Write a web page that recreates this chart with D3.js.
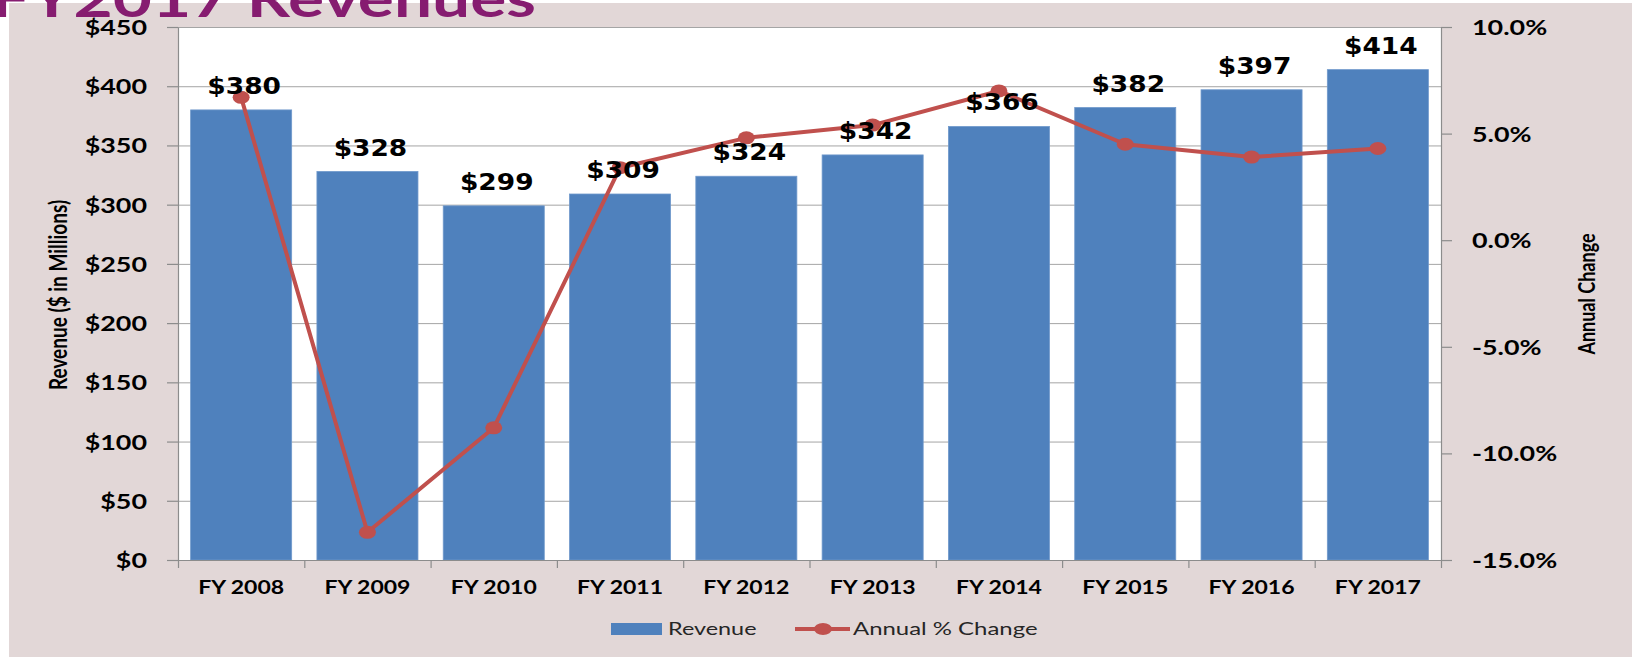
<!DOCTYPE html>
<html>
<head>
<meta charset="utf-8">
<script src="https://cdn.jsdelivr.net/npm/d3@7"></script>
<style>
  html, body { margin: 0; padding: 0; background: #fff; }
  svg { display: block; }
</style>
</head>
<body>
<script>
// Chart values
var categories = ['FY 2008', 'FY 2009', 'FY 2010', 'FY 2011', 'FY 2012',
                  'FY 2013', 'FY 2014', 'FY 2015', 'FY 2016', 'FY 2017'];
var revenue = [380, 328, 299, 309, 324, 342, 366, 382, 397, 414];     // $ millions
var pctChange = [6.7, -13.7, -8.8, 3.4, 4.8, 5.4, 7.0, 4.5, 3.9, 4.3]; // annual % change
var revenueTicks = [0, 50, 100, 150, 200, 250, 300, 350, 400, 450];
var pctTicks = [-15, -10, -5, 0, 5, 10];

var W = 1632, H = 658;
var plot = {left: 178, right: 1441, top: 27, bottom: 560};
var sx = 1.28; // the slide picture is stretched sideways, so is its text

var barColor = '#4F81BD', lineColor = '#C0504D', gridColor = '#A5A5A5', axisColor = '#8C8C8C';
var tickFont = 'Lato, "Open Sans", sans-serif';

var svg = d3.select('body').append('svg').attr('width', W).attr('height', H);

// slide background + white plot area
svg.append('rect').attr('x', 9).attr('y', 3).attr('width', W - 9).attr('height', H - 4)
    .attr('fill', '#E2D7D7');
svg.append('rect').attr('x', plot.left).attr('y', plot.top)
    .attr('width', plot.right - plot.left).attr('height', plot.bottom - plot.top)
    .attr('fill', '#fff');

// scales
var x = d3.scaleBand().domain(categories).range([plot.left, plot.right])
    .paddingInner(0.2).paddingOuter(0.1);
var xEdge = d3.scaleLinear().domain([0, categories.length]).range([plot.left, plot.right]);
var y = d3.scaleLinear().domain([0, 450]).range([plot.bottom, plot.top]);
var yPct = d3.scaleLinear().domain([-15, 10]).range([plot.bottom, plot.top]);

// horizontal gridlines on the revenue axis
svg.append('g').selectAll('line').data(revenueTicks).enter().append('line')
    .attr('x1', plot.left).attr('x2', plot.right)
    .attr('y1', function(d) {return y(d) + 0.5;})
    .attr('y2', function(d) {return y(d) + 0.5;})
    .attr('stroke', gridColor).attr('stroke-width', 1);

// bars
svg.append('g').selectAll('rect').data(revenue).enter().append('rect')
    .attr('x', function(d, i) {return x(categories[i]);})
    .attr('y', function(d) {return y(d);})
    .attr('width', x.bandwidth())
    .attr('height', function(d) {return y(0) - y(d);})
    .attr('fill', barColor)
    .attr('stroke', '#6F98CB').attr('stroke-width', 0.8);

// stretch tick text sideways like the source picture
function styleTicks(g, dx, dy, anchor, size) {
    g.select('.domain').attr('stroke', axisColor).attr('stroke-width', 1.2);
    g.selectAll('.tick line').attr('stroke', axisColor).attr('stroke-width', 1.2);
    g.selectAll('.tick text')
        .attr('x', null).attr('y', null).attr('dy', null)
        .attr('text-anchor', anchor)
        .attr('transform', 'translate(' + dx + ',' + dy + ') scale(' + sx + ',1)')
        .style('font-family', tickFont).style('font-weight', 700)
        .style('font-size', size + 'px').attr('fill', '#000');
}

// left axis
svg.append('g').attr('transform', 'translate(' + plot.left + ',0)')
    .call(d3.axisLeft(y).tickValues(revenueTicks).tickSize(11).tickSizeOuter(0)
        .tickFormat(function(d) {return '$' + d;}))
    .call(styleTicks, -31, 7.5, 'end', 21);

// right axis
svg.append('g').attr('transform', 'translate(' + plot.right + ',0)')
    .call(d3.axisRight(yPct).tickValues(pctTicks).tickSize(11).tickSizeOuter(0)
        .tickFormat(function(d) {return d.toFixed(1) + '%';}))
    .call(styleTicks, 31, 7.5, 'start', 21);

// bottom axis: ticks sit between categories, labels under the bars
svg.append('g').attr('transform', 'translate(0,' + plot.bottom + ')')
    .call(d3.axisBottom(xEdge).tickValues(d3.range(categories.length + 1))
        .tickSize(8).tickSizeOuter(0).tickFormat(''))
    .call(function(g) {
        g.select('.domain').attr('stroke', axisColor).attr('stroke-width', 1.2);
        g.selectAll('.tick line').attr('stroke', axisColor).attr('stroke-width', 1.2);
    });
svg.append('g').attr('transform', 'translate(0,' + plot.bottom + ')')
    .call(d3.axisBottom(x).tickSize(0))
    .call(function(g) {g.select('.domain').remove();})
    .call(styleTicks, 0, 34, 'middle', 18);

// annual % change line
var line = d3.line()
    .x(function(d, i) {return x(categories[i]) + x.bandwidth() / 2;})
    .y(function(d) {return yPct(d);});

svg.append('path').datum(pctChange)
    .attr('d', line)
    .attr('fill', 'none')
    .attr('stroke', lineColor).attr('stroke-width', 4)
    .attr('stroke-linejoin', 'round');

svg.append('g').selectAll('ellipse').data(pctChange).enter().append('ellipse')
    .attr('cx', function(d, i) {return x(categories[i]) + x.bandwidth() / 2;})
    .attr('cy', function(d) {return yPct(d);})
    .attr('rx', 8.5).attr('ry', 6.5)
    .attr('fill', lineColor);

// value labels above bars
svg.append('g').selectAll('text').data(revenue).enter().append('text')
    .attr('transform', function(d, i) {
        return 'translate(' + (x(categories[i]) + x.bandwidth() / 2 + 3) + ',' + (y(d) - 16) + ') scale(1.15,1)';
    })
    .attr('text-anchor', 'middle')
    .style('font-family', '"DejaVu Sans", Verdana, sans-serif')
    .style('font-weight', 700).style('font-size', '23px')
    .attr('fill', '#000')
    .text(function(d) {return '$' + d;});

// axis titles (rotated, so the stretch widens their glyph height)
svg.append('text')
    .attr('transform', 'translate(67,295) scale(' + sx + ',1) rotate(-90)')
    .attr('text-anchor', 'middle')
    .style('font-family', tickFont).style('font-weight', 700).style('font-size', '19px')
    .text('Revenue ($ in Millions)');

svg.append('text')
    .attr('transform', 'translate(1595,294) scale(' + sx + ',1) rotate(-90)')
    .attr('text-anchor', 'middle')
    .style('font-family', tickFont).style('font-weight', 700).style('font-size', '18px')
    .text('Annual Change');

// legend
var legend = svg.append('g');
legend.append('rect').attr('x', 611).attr('y', 623).attr('width', 51).attr('height', 12)
    .attr('fill', barColor);
legend.append('text')
    .attr('transform', 'translate(668,635) scale(1.3,1)')
    .style('font-family', tickFont).style('font-size', '18px').attr('fill', '#262626')
    .text('Revenue');
legend.append('line').attr('x1', 795).attr('x2', 850).attr('y1', 629).attr('y2', 629)
    .attr('stroke', lineColor).attr('stroke-width', 4);
legend.append('ellipse').attr('cx', 823).attr('cy', 629).attr('rx', 9).attr('ry', 6)
    .attr('fill', lineColor);
legend.append('text')
    .attr('transform', 'translate(853,635) scale(1.33,1)')
    .style('font-family', tickFont).style('font-size', '18px').attr('fill', '#262626')
    .text('Annual % Change');

// slide title, cut off at the top of the crop
svg.append('text')
    .attr('transform', 'translate(536,17) scale(1.3,1)')
    .attr('text-anchor', 'end')
    .style('font-family', tickFont).style('font-weight', 700).style('font-size', '52px')
    .attr('fill', '#861C70')
    .text('FY2017 Revenues');
</script>
</body>
</html>
